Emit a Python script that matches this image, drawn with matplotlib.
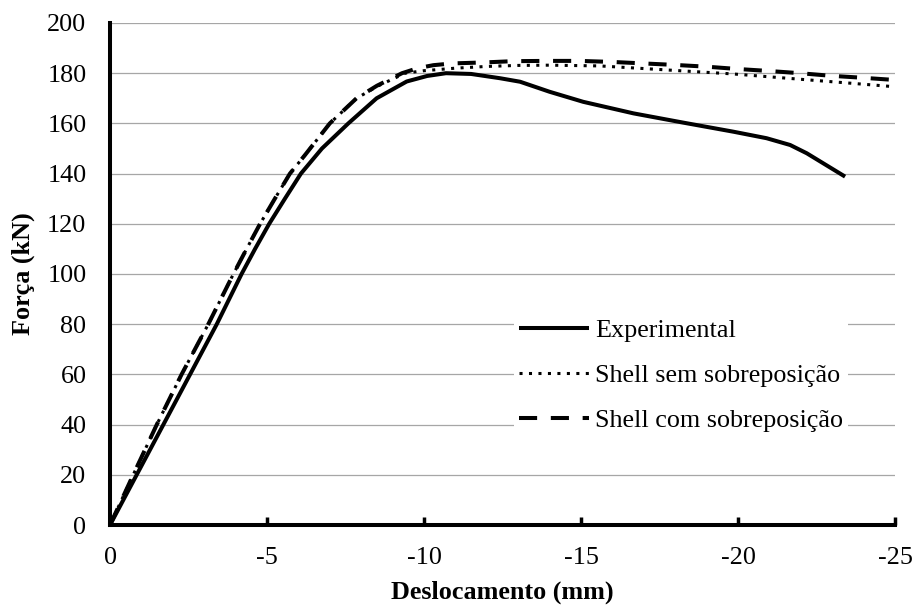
import matplotlib
matplotlib.use("Agg")
import matplotlib.pyplot as plt

plt.rcParams['font.family'] = ['Liberation Serif', 'DejaVu Serif']

exp_x = [0, -0.85, -1.7, -2.55, -3.4, -4.19, -4.62, -5.07, -5.57, -6.08, -6.75, -7.59, -8.49, -9.45,
         -10.1, -10.7, -11.5, -12.42, -13.06, -14.0, -15.07, -16.67, -18.26, -19.85, -20.91, -21.66,
         -22.19, -23.41]
exp_y = [0, 20, 40, 60, 80, 100, 110, 120, 130, 140, 150, 160, 170, 176.7,
         178.9, 180, 179.7, 178.0, 176.6, 172.6, 168.6, 164.0, 160.3, 156.7, 154.1, 151.4,
         148.1, 138.8]

sem_x = [0, -0.74, -1.49, -2.28, -3.13, -3.93, -4.35, -4.78, -5.25, -5.73, -6.21, -7.0, -7.85, -8.55,
         -9.4, -10.0, -11.0, -12.0, -13.0, -14.0, -15.6, -17.73, -19.85, -21.97, -23.5, -25.0]
sem_y = [0, 20, 40, 60, 80, 100, 110, 120, 130, 140, 147.4, 160, 170, 175,
         180, 181, 182, 182.7, 183.1, 183.2, 182.9, 181.3, 179.7, 177.6, 176.1, 174.6]

com_x = [0, -0.74, -1.49, -2.28, -3.13, -3.93, -4.35, -4.78, -5.25, -5.73, -6.21, -7.0, -7.85, -8.5,
         -9.3, -9.8, -10.3, -10.9, -11.94, -12.84, -13.9, -14.96, -15.98, -16.98, -17.99, -19.0,
         -19.96, -20.97, -21.97, -22.93, -23.94, -25.0]
com_y = [0, 20, 40, 60, 80, 100, 110, 120, 130, 140, 147.4, 160, 170, 175,
         180, 182, 183.2, 183.9, 184.3, 184.8, 184.9, 184.9, 184.5, 183.9, 183.3, 182.6,
         181.7, 180.9, 180.0, 179.0, 178.2, 177.3]

x_ticks = [0, -5, -10, -15, -20, -25]
y_ticks = [0, 20, 40, 60, 80, 100, 120, 140, 160, 180, 200]

labels = ['Experimental', 'Shell sem sobreposição', 'Shell com sobreposição']

FS = 18.8

fig = plt.figure(figsize=(9.13, 6.07), dpi=100)
ax = fig.add_axes([110/913, 1-525/607, (895-110)/913, (525-23)/607])

ax.plot(exp_x, exp_y, color='black', lw=2.9, solid_capstyle='butt', solid_joinstyle='round',
        label=labels[0], zorder=3)
ax.plot(sem_x, sem_y, color='black', lw=2.2, dashes=(1, 2.1), label=labels[1], zorder=3)
ax.plot(com_x, com_y, color='black', lw=2.9, dashes=(4.5, 3.4), label=labels[2], zorder=3)

ax.set_xlim(0, -25)
ax.set_ylim(0, 200)
ax.set_xticks(x_ticks)
ax.set_xticklabels([str(v) for v in x_ticks])
ax.set_yticks(y_ticks)
ax.set_yticklabels([str(v) for v in y_ticks])

ax.grid(axis='y', color='#a6a6a6', lw=0.9)
ax.set_axisbelow(True)
for s in ['top', 'right']:
    ax.spines[s].set_visible(False)
for s in ['left', 'bottom']:
    ax.spines[s].set_linewidth(2.9)
    ax.spines[s].set_color('black')

ax.tick_params(axis='x', direction='in', length=6, width=2.5, pad=16, labelsize=FS)
ax.tick_params(axis='y', length=0, pad=17, labelsize=FS)

ax.set_xlabel('Deslocamento (mm)', fontsize=FS, fontweight='bold', labelpad=8.5)
ax.set_ylabel('Força (kN)', fontsize=FS, fontweight='bold', labelpad=9)

leg = ax.legend(loc='upper left', bbox_to_anchor=(514/913, 1-314/607), bbox_transform=fig.transFigure,
                fontsize=FS, frameon=True, fancybox=False, handlelength=2.68, handletextpad=0.22,
                labelspacing=0.82, borderpad=0.2, borderaxespad=0)
leg.get_frame().set_facecolor('white')
leg.get_frame().set_edgecolor('none')
leg.get_frame().set_alpha(1)

fig.savefig('out.png', dpi=100)
